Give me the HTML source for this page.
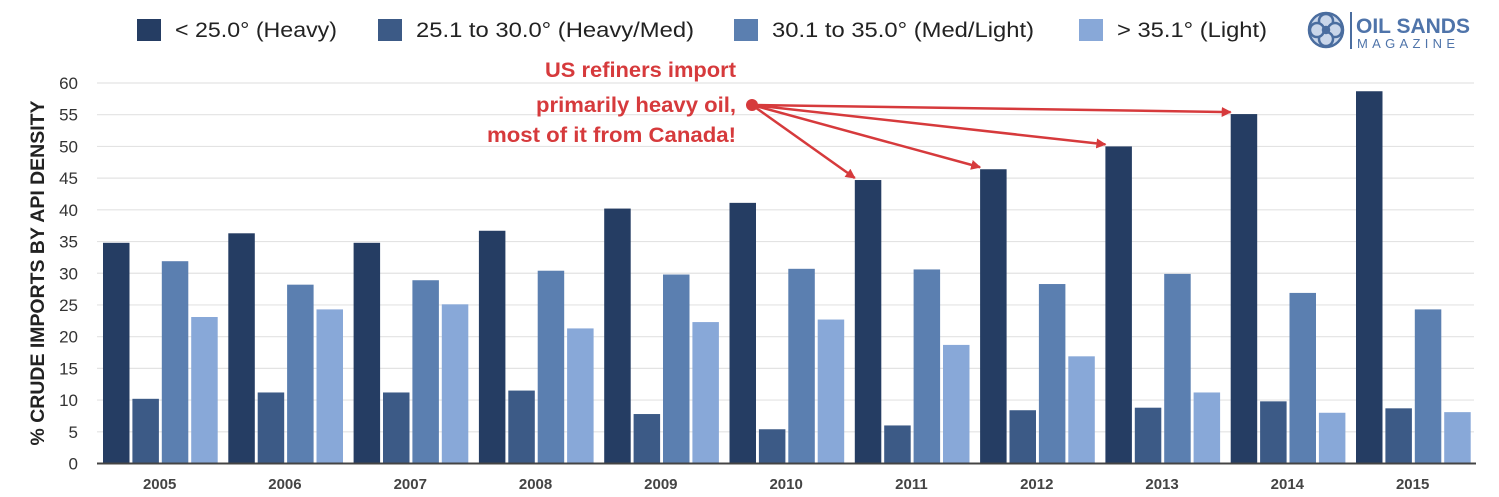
<!DOCTYPE html>
<html><head><meta charset="utf-8"><style>
html,body{margin:0;padding:0;background:#fff;}
svg{display:block;font-family:"Liberation Sans",sans-serif;}
</style></head><body>
<svg id="chart" width="1499" height="497" viewBox="0 0 1499 497" xmlns="http://www.w3.org/2000/svg">
<defs><marker id="ah" markerWidth="10" markerHeight="10" refX="9" refY="5" orient="auto" markerUnits="userSpaceOnUse"><path d="M0,0 L10,5 L0,10 Z" fill="#d63a3c"/></marker></defs>
<g id="grid"></g>
<g id="bars"></g>
<g id="yt"></g>
<g id="xt"></g>
<line x1="97" y1="463.5" x2="1476" y2="463.5" stroke="#444" stroke-width="2"/>
<text transform="translate(44,273) rotate(-90)" text-anchor="middle" font-size="19" font-weight="bold" fill="#222" textLength="345" lengthAdjust="spacingAndGlyphs">% CRUDE IMPORTS BY API DENSITY</text>
<g id="legend"></g>
<g>
<g transform="translate(1326,30)" fill="#c9d6ea" stroke="#4a6d9f" stroke-width="2.5">
<circle r="17"/><circle r="7" cx="0" cy="-9"/><circle r="7" cx="9" cy="0"/><circle r="7" cx="0" cy="9"/><circle r="7" cx="-9" cy="0"/><circle r="3" fill="#4a6d9f"/>
</g>
<line x1="1351" y1="12" x2="1351" y2="49" stroke="#4a6d9f" stroke-width="2"/>
<text x="1356" y="33" font-size="21" font-weight="bold" fill="#4f74aa">OIL SANDS</text>
<text x="1357" y="48" font-size="13" letter-spacing="4.3" fill="#4f74aa">MAGAZINE</text>
</g>
<g fill="#d63a3c" font-size="21" font-weight="bold">
<text x="545" y="77" textLength="191" lengthAdjust="spacingAndGlyphs">US refiners import</text>
<text x="536" y="112" textLength="200" lengthAdjust="spacingAndGlyphs">primarily heavy oil,</text>
<text x="487" y="142" textLength="249" lengthAdjust="spacingAndGlyphs">most of it from Canada!</text>
</g>
<g id="arrows"></g>
<circle cx="752" cy="105" r="6" fill="#d63a3c"/>
</svg>
<script>
const years=["2005","2006","2007","2008","2009","2010","2011","2012","2013","2014","2015"];
const heavy=[34.8,36.3,34.8,36.7,40.2,41.1,44.7,46.4,50.0,55.1,58.7];
const heavyMed=[10.2,11.2,11.2,11.5,7.8,5.4,6.0,8.4,8.8,9.8,8.7];
const medLight=[31.9,28.2,28.9,30.4,29.8,30.7,30.6,28.3,29.9,26.9,24.3];
const light=[23.1,24.3,25.1,21.3,22.3,22.7,18.7,16.9,11.2,8.0,8.1];
const seriesNames=["< 25.0° (Heavy)","25.1 to 30.0° (Heavy/Med)","30.1 to 35.0° (Med/Light)","> 35.1° (Light)"];
const yTicks=[0,5,10,15,20,25,30,35,40,45,50,55,60];
const arrowYears=["2011","2012","2013","2014"];
const NS="http://www.w3.org/2000/svg";
const colors=["#253d63","#3c5a86","#5b7fb0","#88a8d8"];
const series=[heavy,heavyMed,medLight,light];
const y0=463.5,yScale=380.5/60,left=97,gw=125.3;
function yPix(v){return y0-v*yScale;}
function gX(i){return left+i*gw;}
function mk(t,a,p){const e=document.createElementNS(NS,t);for(const k in a)e.setAttribute(k,a[k]);p.appendChild(e);return e;}
const grid=document.getElementById('grid'),yt=document.getElementById('yt');
yTicks.forEach(v=>{
 if(v>0){const l=mk('line',{x1:97,x2:1474,y1:yPix(v),y2:yPix(v),stroke:'#e3e3e3','stroke-width':1.2},grid);
 
 }
 const t=mk('text',{x:78,y:yPix(v)+6,'text-anchor':'end','font-size':17,fill:'#333'},yt);t.textContent=v;
 
 
});
const bars=document.getElementById('bars'),xt=document.getElementById('xt');
years.forEach((yr,i)=>{
 series.forEach((s,j)=>{
  const r=mk('rect',{x:gX(i)+6+j*29.4,y:yPix(s[i]),width:26.5,height:y0-yPix(s[i]),fill:colors[j]},bars);
  
  
 });
 const t=mk('text',{x:gX(i)+gw/2,y:489,'text-anchor':'middle','font-size':15,'font-weight':'bold',fill:'#444'},xt);t.textContent=yr;
 
 
});
const lg=document.getElementById('legend');const lx=[137,378,734,1079];const lw=[162,278,262,150];
seriesNames.forEach((n,j)=>{
 const g=mk('g',{},lg);
 
 
 mk('rect',{x:lx[j],y:19,width:24,height:22,fill:colors[j]},g);
 const t=mk('text',{x:lx[j]+38,y:37,'font-size':21,fill:'#222',textLength:lw[j],lengthAdjust:'spacingAndGlyphs'},g);t.textContent=n;
});
const ar=document.getElementById('arrows');
arrowYears.forEach(yr=>{
 const i=years.indexOf(yr);
 const tx=gX(i)+6,ty=yPix(heavy[i])-2;
 const l=mk('line',{x1:752,y1:105,x2:tx,y2:ty,stroke:'#d63a3c','stroke-width':2.5,'marker-end':'url(#ah)'},ar);
 
 
});
</script>
</body></html>
